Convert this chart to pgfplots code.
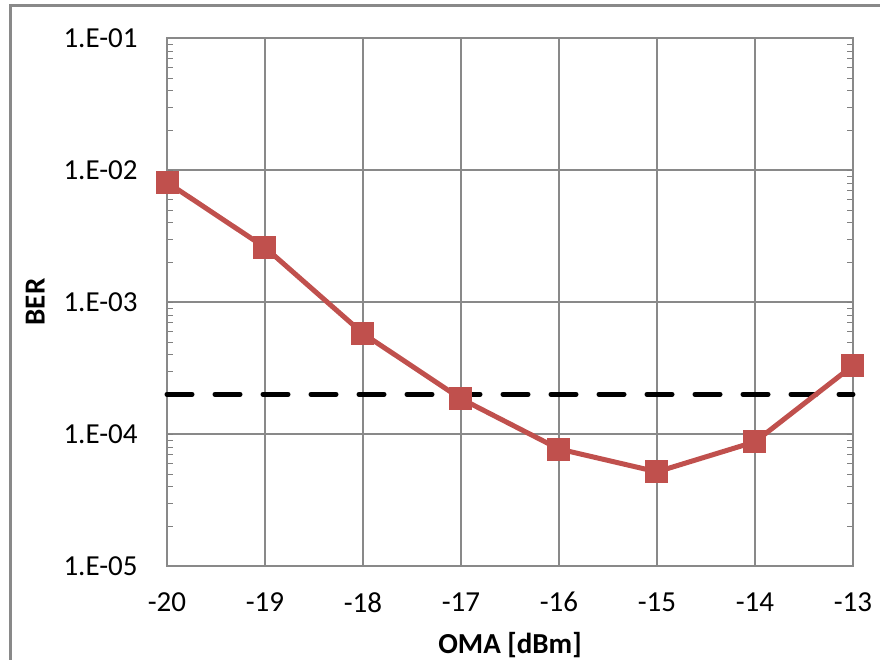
\documentclass[border=0pt]{standalone}
\usepackage{pgfplots}
\pgfplotsset{compat=1.18}
\usepackage{fontspec}
\setmainfont{Carlito}
\definecolor{exred}{HTML}{C0504D}
\definecolor{gridg}{HTML}{898989}
\begin{document}
\begin{tikzpicture}[x=1pt,y=1pt]
\useasboundingbox (0,0) rectangle (440,330);
\draw[gridg, line width=1.5pt] (5,-2) -- (5,327) -- (442,327);
\begin{axis}[
  at={(83.5pt,47pt)}, anchor=south west,
  scale only axis, width=343pt, height=264pt,
  xmin=-20, xmax=-13,
  ymode=log, ymin=1e-5, ymax=1e-1,
  xtick={-20,-19,...,-13},
  ytick={1e-5,1e-4,1e-3,1e-2,1e-1},
  yticklabels={1.E-05,1.E-04,1.E-03,1.E-02,1.E-01},
  minor ytick={}, 
  major tick length=0pt,
  grid=major,
  major grid style={gridg, line width=0.8pt},
  axis line style={gridg, line width=0.8pt},
  font=\fontsize{14.5}{17}\selectfont,
  /pgf/number format/assume math mode=true,
  yticklabel style={inner sep=0pt, xshift=-14.5pt},
  xticklabel style={inner sep=0pt, yshift=-13pt},
  xlabel={\textbf{OMA [dBm]}},
  ylabel={\textbf{BER}},
  xlabel style={inner sep=0pt, at={(axis description cs:0.5,-0.15)}, anchor=center},
  ylabel style={inner sep=0pt, at={(axis description cs:-0.192,0.5)}, anchor=center},
  clip=false,
]
\addplot[black, line width=2.5pt, dash pattern=on 12.5pt off 11.5pt, line cap=round] coordinates {(-20,2e-4) (-13,2e-4)};
\addplot[exred, line width=2.5pt, mark=square*, mark size=5.5pt, mark options={solid, fill=exred, draw=exred, line width=0pt}] coordinates {
(-20,8.07e-3) (-19,2.59e-3) (-18,5.77e-4) (-17,1.85e-4) (-16,7.7e-5) (-15,5.17e-5) (-14,8.73e-5) (-13,3.3e-4)};
\end{axis}
\end{tikzpicture}
\end{document}
